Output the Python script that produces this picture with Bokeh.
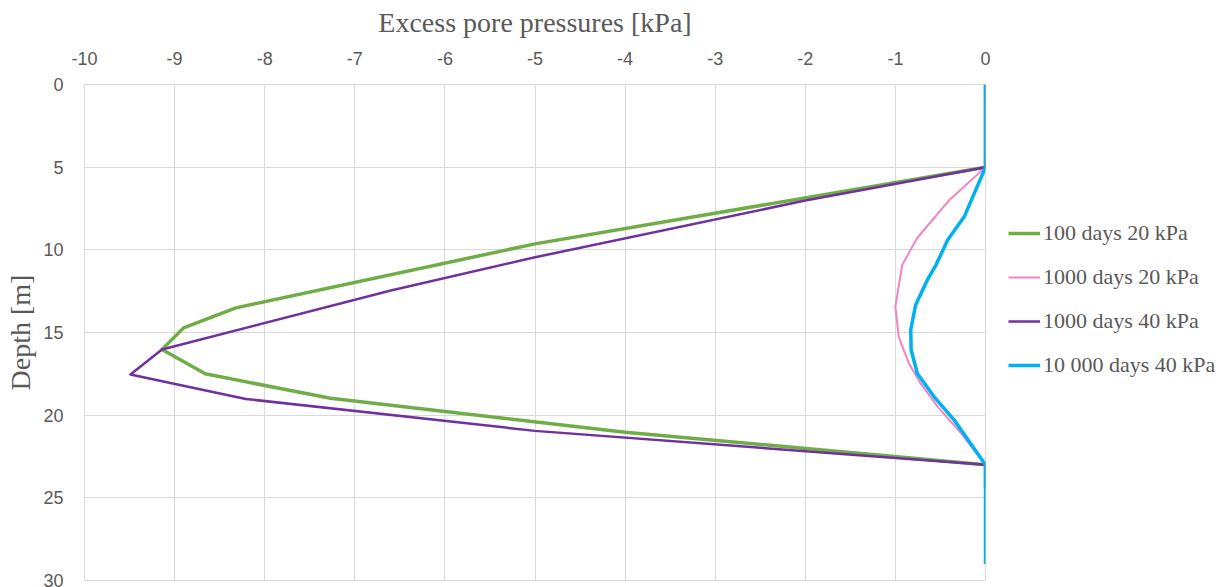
from bokeh.plotting import figure
from bokeh.layouts import row
from bokeh.models import Range1d, LinearAxis, Legend, LegendItem, FixedTicker
from bokeh.embed import file_html
from bokeh.resources import INLINE

# ---- data ----
x_ticks = [-10, -9, -8, -7, -6, -5, -4, -3, -2, -1, 0]
y_ticks = [0, 5, 10, 15, 20, 25, 30]

depth_100d_20 = [0, 5, 9.64, 13.51, 14.72, 16.03, 17.5, 18.98, 21.03, 23, 24.4]
u_100d_20 = [0, 0, -5.0, -8.32, -8.90, -9.14, -8.66, -7.27, -4.0, 0, 0]

depth_1000d_20 = [0, 5, 6.98, 9.3, 10.92, 13.44, 15.26, 16.87, 18.08, 19.5, 21.1, 23]
u_1000d_20 = [0, 0, -0.40, -0.76, -0.925, -1.0, -0.963, -0.85, -0.72, -0.53, -0.27, 0]

depth_1000d_40 = [5, 7.02, 10.45, 12.46, 16.03, 17.54, 19.02, 20.95, 23]
u_1000d_40 = [0, -2.0, -5.0, -6.6, -9.14, -9.49, -8.21, -5.0, 0]

depth_10000d_40 = [0, 5, 7.99, 9.4, 10.92, 11.82, 13.34, 14.85, 16.06, 17.48, 18.89, 20.3, 23, 29]
u_10000d_40 = [0, 0, -0.235, -0.42, -0.55, -0.645, -0.776, -0.83, -0.825, -0.757, -0.57, -0.347, 0, 0]

labels = ["100 days 20 kPa", "1000 days 20 kPa", "1000 days 40 kPa", "10 000 days 40 kPa"]
colors = ["#70AD47", "#F283C4", "#7030A0", "#00B0F0"]
widths = [3.5, 2, 2.5, 3.5]

TXT = "#595959"
GRID = "#D9D9D9"

p = figure(width=990, height=587, output_backend="svg", toolbar_location=None,
           x_range=Range1d(-10, 0), y_range=Range1d(30, 0),
           x_axis_location=None, y_axis_location=None,
           min_border_left=84, min_border_right=5, min_border_top=84, min_border_bottom=7)
p.outline_line_color = GRID

xaxis = LinearAxis(ticker=FixedTicker(ticks=x_ticks), axis_label="Excess pore pressures [kPa]")
yaxis = LinearAxis(ticker=FixedTicker(ticks=y_ticks), axis_label="Depth [m]")
xaxis.major_label_overrides = {t: str(t) for t in x_ticks}
yaxis.major_label_overrides = {t: str(t) for t in y_ticks}
for ax in (xaxis, yaxis):
    ax.axis_line_color = None
    ax.major_tick_line_color = None
    ax.minor_tick_line_color = None
    ax.major_tick_out = 0
    ax.major_tick_in = 0
    ax.minor_tick_out = 0
    ax.major_label_text_font = "Liberation Sans"
    ax.major_label_text_font_size = "18px"
    ax.major_label_text_color = TXT
    ax.axis_label_text_font = "Liberation Serif"
    ax.axis_label_text_font_style = "normal"
    ax.axis_label_text_font_size = "28px"
    ax.axis_label_text_color = TXT
xaxis.major_label_standoff = 20
xaxis.axis_label_standoff = 11
yaxis.major_label_standoff = 21
yaxis.axis_label_standoff = 4
p.add_layout(xaxis, "above")
p.add_layout(yaxis, "left")

p.xgrid.ticker = FixedTicker(ticks=x_ticks)
p.ygrid.ticker = FixedTicker(ticks=y_ticks)
p.grid.grid_line_color = GRID
p.grid.grid_line_width = 1

series = [(u_100d_20, depth_100d_20), (u_1000d_20, depth_1000d_20),
          (u_1000d_40, depth_1000d_40), (u_10000d_40, depth_10000d_40)]
for (xs, ys), c, w in zip(series, colors, widths):
    p.line(xs, ys, line_color=c, line_width=w, line_join="round")

# legend panel (separate figure to the right of the plot); its series
# lie outside that figure's visible range so only the legend shows
q = figure(width=232, height=587, output_backend="svg", toolbar_location=None,
           x_range=Range1d(100, 101), y_range=Range1d(100, 101),
           x_axis_location=None, y_axis_location=None,
           min_border=0)
q.outline_line_color = None
q.grid.visible = False
items = []
for (xs, ys), lab, c, w in zip(series, labels, colors, widths):
    r = q.line(xs, ys, line_color=c, line_width=w)
    items.append(LegendItem(label=lab, renderers=[r]))

legend = Legend(items=items, location=(18, 202), orientation="vertical")
legend.border_line_color = None
legend.background_fill_alpha = 0
legend.padding = 0
legend.margin = 0
legend.glyph_width = 32
legend.glyph_height = 26
legend.label_height = 26
legend.label_standoff = 3
legend.spacing = 18
legend.label_text_font = "Liberation Serif"
legend.label_text_font_size = "22px"
legend.label_text_color = TXT
q.add_layout(legend, "center")

layout = row(p, q)
open("out.html", "w").write(file_html(layout, INLINE))
